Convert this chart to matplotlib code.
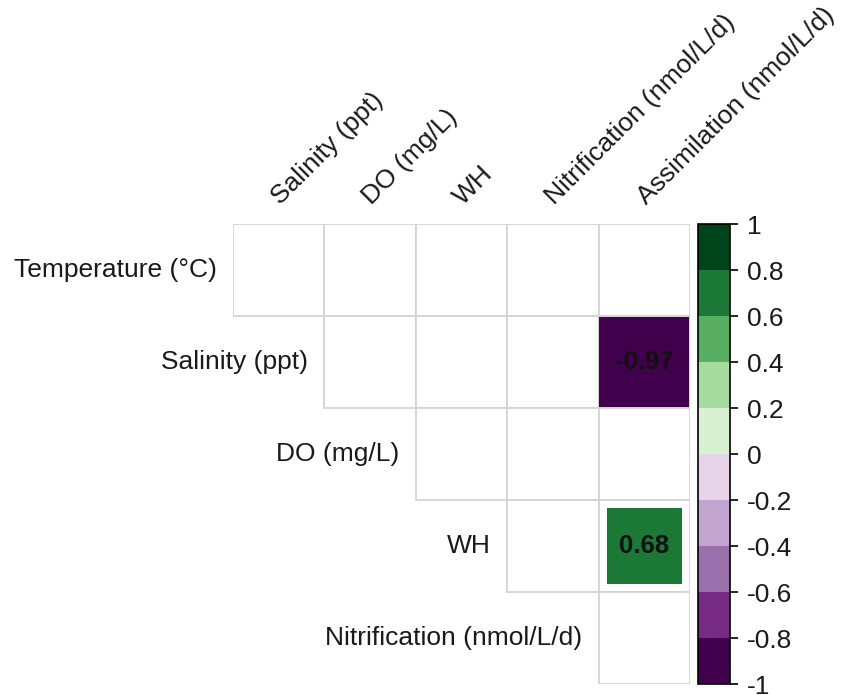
import numpy as np
import matplotlib
matplotlib.use("Agg")
import matplotlib.pyplot as plt
from matplotlib.colors import ListedColormap, BoundaryNorm
from matplotlib.patches import Rectangle

plt.rcParams['font.family'] = ['Liberation Sans', 'DejaVu Sans']

# rows / columns of the upper-triangle correlation plot
row_labels = ['Temperature (°C)', 'Salinity (ppt)', 'DO (mg/L)', 'WH',
              'Nitrification (nmol/L/d)']
col_labels = ['Salinity (ppt)', 'DO (mg/L)', 'WH', 'Nitrification (nmol/L/d)',
              'Assimilation (nmol/L/d)']

# only significant correlations are shown, others are NaN
corr = np.full((5, 5), np.nan)
corr[1, 4] = -0.97
corr[3, 4] = 0.68

# PRGn, 10 classes
palette = ['#40004B', '#762A83', '#9970AB', '#C2A5CF', '#E7D4E8',
           '#D9F0D3', '#A6DBA0', '#5AAE61', '#1B7837', '#00441B']
bounds = np.linspace(-1, 1, 11)
cbar_ticks = [1, 0.8, 0.6, 0.4, 0.2, 0, -0.2, -0.4, -0.6, -0.8, -1]

cmap = ListedColormap(palette)
norm = BoundaryNorm(bounds, cmap.N)

fs = 19
fig = plt.figure(figsize=(8.44, 6.95), dpi=100)
ax = fig.add_axes([233 / 844, 11 / 695, 457 / 844, 460 / 695])
ax.set_xlim(0, 5)
ax.set_ylim(5, 0)
ax.axis('off')

n = len(row_labels)
for i in range(n):
    for j in range(i, n):
        ax.add_patch(Rectangle((j, i), 1, 1, facecolor='white',
                               edgecolor='#D3D3D3', lw=1.3, zorder=1))
        v = corr[i, j]
        if not np.isnan(v):
            side = np.sqrt(abs(v))
            off = (1 - side) / 2
            ax.add_patch(Rectangle((j + off, i + off), side, side,
                                   facecolor=cmap(norm(v)), edgecolor='none',
                                   zorder=2))
            ax.text(j + 0.5, i + 0.5, f'{v:.2f}', ha='center', va='center',
                    fontsize=fs - 0.5, fontweight='bold', color='#111111',
                    zorder=3)
    # row label left of first cell in the row
    ax.text(i - 0.18, i + 0.5, row_labels[i], ha='right', va='center',
            fontsize=fs, color='#1a1a1a', clip_on=False)

for j, lab in enumerate(col_labels):
    ax.text(j + 0.52, -0.2, lab, ha='left', va='baseline', rotation=45,
            rotation_mode='anchor', fontsize=fs, color='#1a1a1a', clip_on=False)

# colour bar
cax = fig.add_axes([698 / 844, 11 / 695, 32 / 844, 460 / 695])
sm = plt.cm.ScalarMappable(cmap=cmap, norm=norm)
cb = fig.colorbar(sm, cax=cax, boundaries=bounds, ticks=cbar_ticks)
cb.ax.set_yticklabels([f'{t:g}' for t in cbar_ticks])
cb.ax.tick_params(labelsize=fs, length=6, width=1.2, color='black',
                  labelcolor='#1a1a1a', pad=6)
cb.outline.set_linewidth(1.2)

fig.savefig('out.png', dpi=100, facecolor='white')
